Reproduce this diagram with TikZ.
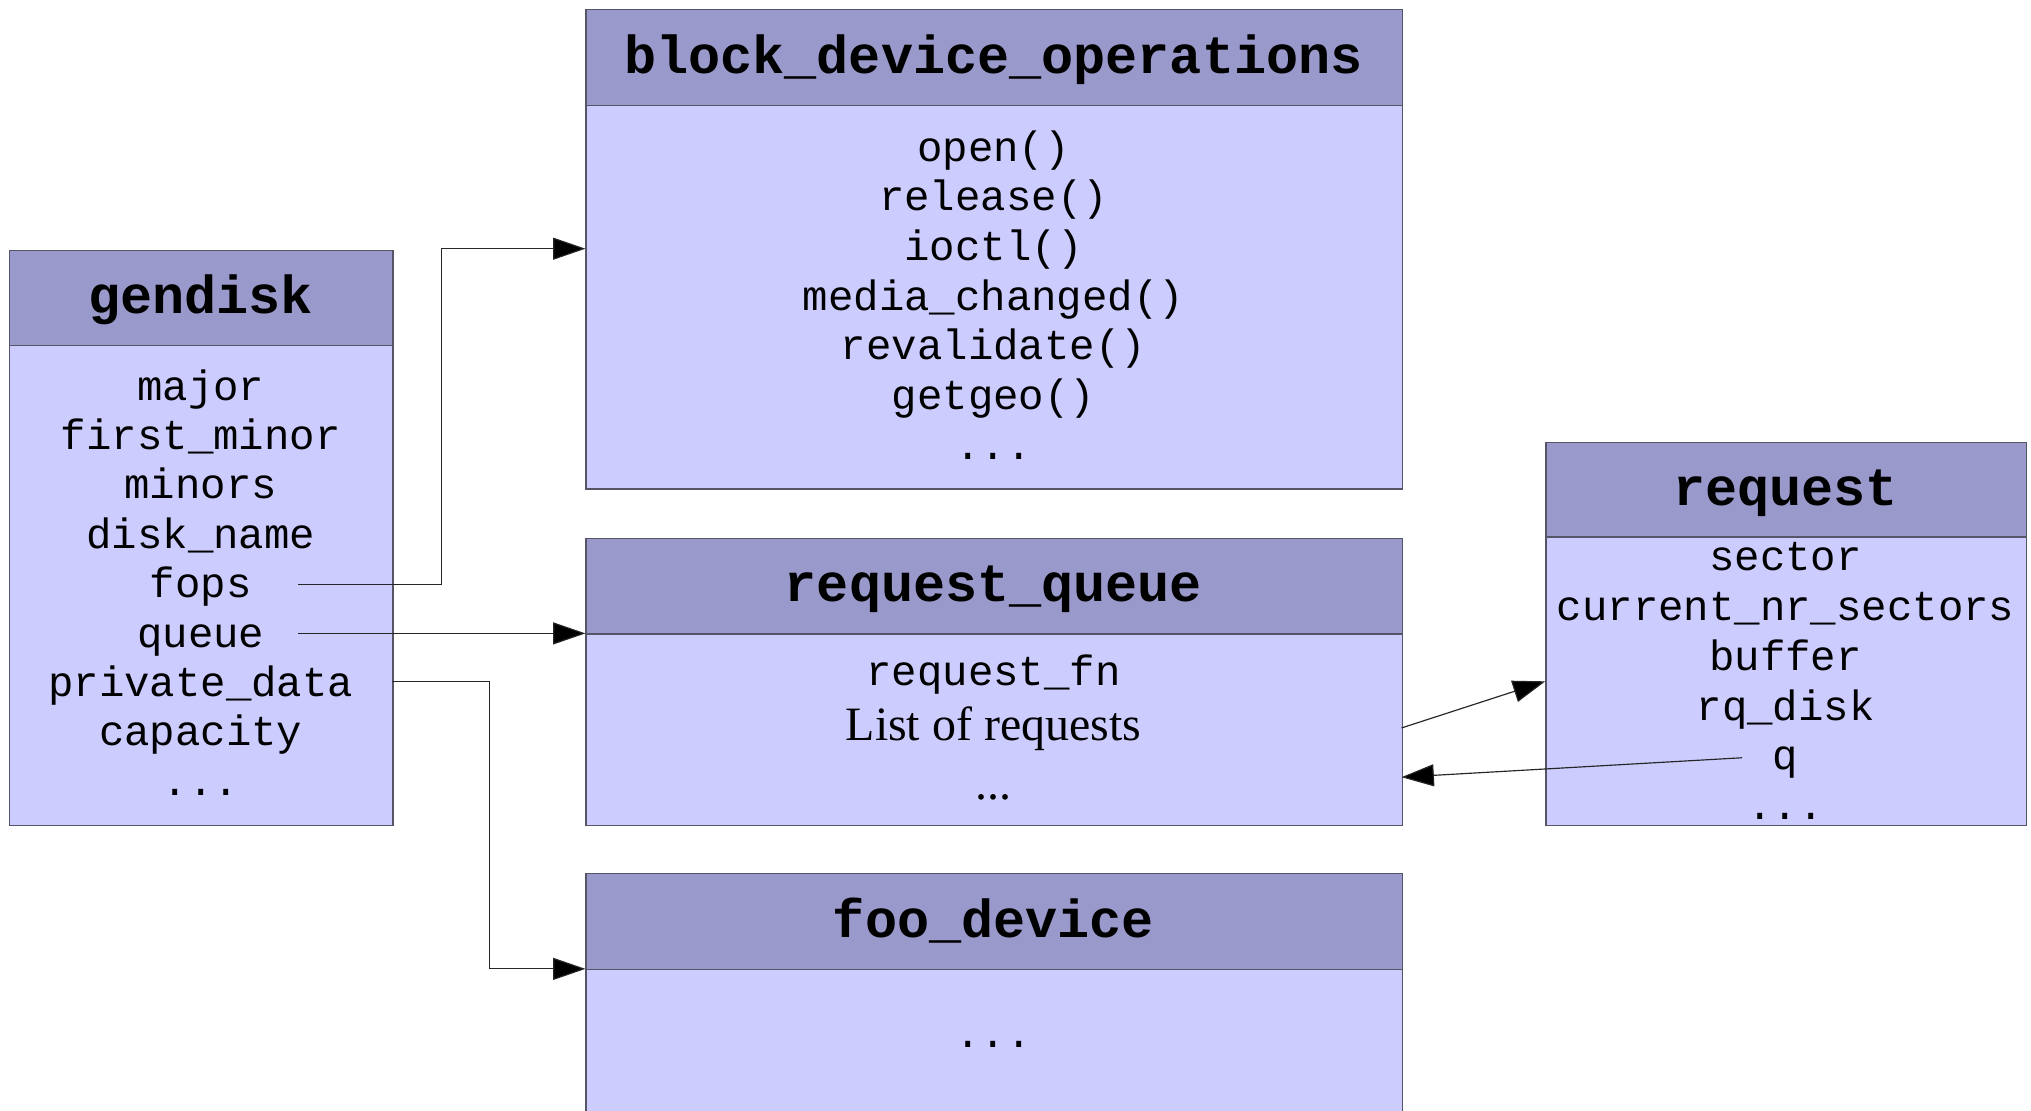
\documentclass[tikz,border=0pt]{standalone}
\usepackage{fontspec}
\setmainfont{Liberation Serif}
\setmonofont{Liberation Mono}
\usetikzlibrary{arrows.meta}
\definecolor{hdrfill}{HTML}{9999CC}
\definecolor{bodyfill}{HTML}{CCCCFF}
\definecolor{boxline}{HTML}{555566}
\newcommand\mydots{...}
\tikzset{
  boxpart/.style={draw=boxline, line width=1pt, anchor=north west, inner sep=0pt},
  hdr/.style={boxpart, fill=hdrfill},
  bdy/.style={boxpart, fill=bodyfill},
  title/.style={anchor=base, inner sep=0pt, font=\fontsize{41.3}{45}\selectfont\ttfamily\bfseries},
  txt/.style={anchor=base, inner sep=0pt, font=\fontsize{32.7}{38}\selectfont\ttfamily},
  stxt/.style={anchor=base, inner sep=0pt, font=\fontsize{37}{40}\selectfont\rmfamily},
  arr/.style={line width=0.9pt, draw=black!85, -{Triangle[length=25pt,width=17pt,fill=black]}}
}
\begin{document}
\begin{tikzpicture}[x=1pt,y=-1pt]
\clip (0,0) rectangle (1568,857);
\fill[white] (0,0) rectangle (1568,857);
% gendisk
\node[bdy, minimum width=296pt, minimum height=371pt] (gd-b) at (7,266) {};
\node[hdr, minimum width=296pt, minimum height=73pt] (gd-h) at (7,193) {};
\node[title] (gd-t) at (155,242) {gendisk};
\foreach \t [count=\i] in {major,first\_minor,minors,disk\_name,fops,queue,private\_data,capacity,\mydots}
  \node[txt] (gd\i) at (155,{309+38.1*(\i-1)}) {\t};
% block_device_operations
\node[bdy, minimum width=630pt, minimum height=296pt] (bdo-b) at (452,81) {};
\node[hdr, minimum width=630pt, minimum height=74pt] (bdo-h) at (452,7) {};
\node[title] (bdo-t) at (767,56.5) {block\_device\_operations};
\foreach \t [count=\i] in {open(),release(),ioctl(),media\_changed(),revalidate(),getgeo(),\mydots}
  \node[txt] (bdo\i) at (767,{124.3+38.4*(\i-1)}) {\t};
% request_queue
\node[bdy, minimum width=630pt, minimum height=148pt] (rq-b) at (452,489) {};
\node[hdr, minimum width=630pt, minimum height=74pt] (rq-h) at (452,415) {};
\node[title] (rq-t) at (767,464.5) {request\_queue};
\node[txt] (rq1) at (767,528.9) {request\_fn};
\node[stxt] (rq2) at (767,572) {List of requests};
\node[stxt] (rq3) at (767,617) {\mydots};
% foo_device
\node[bdy, minimum width=630pt, minimum height=150pt] (foo-b) at (452,748) {};
\node[hdr, minimum width=630pt, minimum height=74pt] (foo-h) at (452,674) {};
\node[title] (foo-t) at (767,723.5) {foo\_device};
\node[txt] (foo1) at (767,808.5) {\mydots};
% request
\node[bdy, minimum width=371pt, minimum height=223pt] (req-b) at (1193,414) {};
\node[hdr, minimum width=371pt, minimum height=73pt] (req-h) at (1193,341) {};
\node[title] (req-t) at (1378.5,390) {request};
\foreach \t [count=\i] in {sector,current\_nr\_sectors,buffer,rq\_disk,q,\mydots}
  \node[txt] (req\i) at (1378.5,{440.7+38.4*(\i-1)}) {\t};
% connectors
\coordinate (fopsS) at (230,451);
\coordinate (fopsC) at (341,451);
\coordinate (bdoIn) at (452,192);
\draw[arr] (fopsS) -- (fopsC) |- (bdoIn);
\coordinate (queueS) at (230,489);
\draw[arr] (queueS) -- (rq-b.north west);
\coordinate (pdS) at (303,526);
\coordinate (pdC) at (378,526);
\draw[arr] (pdS) -- (pdC) |- (foo-b.north west);
\coordinate (rqOut) at (1082,562);
\coordinate (reqIn) at (1193,526);
\draw[arr] (rqOut) -- (reqIn);
\coordinate (qS) at (1345,585);
\coordinate (rqIn) at (1082,600);
\draw[arr] (qS) -- (rqIn);
\end{tikzpicture}
\end{document}
